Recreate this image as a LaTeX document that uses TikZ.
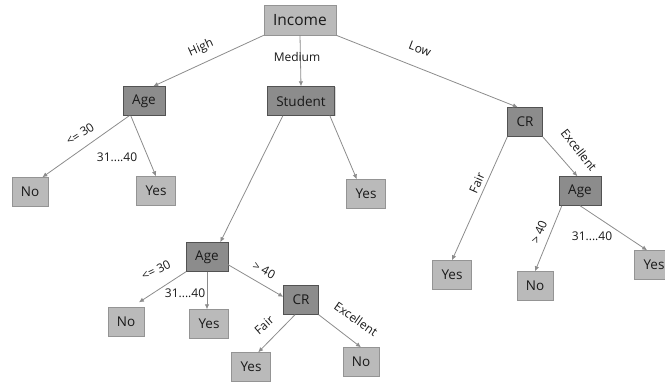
\documentclass[tikz,border=0pt]{standalone}
\usepackage{fontspec}
\setmainfont{Open Sans}
\usetikzlibrary{arrows.meta,shadows}
\tikzset{
  box/.style={rectangle, inner xsep=9pt, inner ysep=0pt, minimum height=29pt, text=black!90,
    font=\fontsize{13.5}{15}\selectfont,
    drop shadow={shadow xshift=1pt, shadow yshift=-1pt, opacity=0.3}},
  leaf/.style={box, draw=black!42, fill=black!27},
  test/.style={box, draw=black!68, fill=black!45},
  branch/.style={draw=black!45, line width=0.8pt, -{Latex[length=5pt,width=4.5pt]}},
  cond/.style={font=\fontsize{12}{13}\selectfont, text=black!90, inner sep=1pt},
}
\begin{document}
\begin{tikzpicture}[x=1pt, y=1pt]
  \useasboundingbox (0,0) rectangle (665,383);
  % Wurzel und erste Ebene
  \node[leaf, minimum height=30pt, font=\fontsize{15.5}{17}\selectfont] (inc) at (300,363) {Income};
  \node[test] (age1) at (144,282) {Age};
  \node[test] (stu) at (301,282) {Student};
  \node[test] (cr1) at (525,261) {CR};
  % Blaetter und Tests darunter
  \node[leaf] (no1) at (30,191) {No};
  \node[leaf] (yes1) at (156,192) {Yes};
  \node[leaf] (yes2) at (366,189) {Yes};
  \node[test] (age2) at (580,192) {Age};
  \node[leaf] (yes3) at (452,108) {Yes};
  \node[leaf] (no2) at (535,97) {No};
  \node[leaf] (yes4) at (654,118) {Yes};
  \node[test] (age3) at (207,126) {Age};
  \node[leaf] (no3) at (126,61) {No};
  \node[leaf] (yes5) at (209,59) {Yes};
  \node[test] (cr2) at (301,83) {CR};
  \node[leaf] (yes6) at (251,16) {Yes};
  \node[leaf] (no4) at (361,21) {No};
  % Kanten von Income
  \draw[branch] (inc.south west) -- (age1.58);
  \draw[branch] (inc.south) -- (stu.north);
  \draw[branch] (inc.south east) -- (cr1.116);
  \node[cond, rotate=24] at (201,335) {High};
  \node[cond] at (297,326) {Medium};
  \node[cond, rotate=-21] at (420,334) {Low};
  % Kanten von Age (links)
  \draw[branch] (age1.225) -- (no1.50);
  \draw[branch] (age1.228) -- (yes1.north);
  \node[cond, rotate=33] at (80,249) {<= 30};
  \node[cond] at (117,226) {31....40};
  % Kanten von Student
  \draw[branch] (stu.219) -- (age3.48);
  \draw[branch] (stu.-27) -- (yes2.122);
  % Kanten von CR (rechts)
  \draw[branch] (cr1.south west) -- (yes3.north);
  \draw[branch] (cr1.south east) -- (age2.100);
  \node[cond, rotate=66] at (477,200) {Fair};
  \node[cond, rotate=-52] at (579,233) {Excellent};
  % Kanten von Age (rechts)
  \draw[branch] (age2.219) -- (no2.north);
  \draw[branch] (age2.south) -- (yes4.115);
  \node[cond, rotate=67] at (539,151) {> 40};
  \node[cond] at (592,147) {31....40};
  % Kanten von Age (unten)
  \draw[branch, shorten >=9pt] (age3.south west) -- (no3.70);
  \draw[branch] (age3.south) -- (age3.south |- yes5.north);
  \draw[branch] (age3.-20) -- (cr2.170);
  \node[cond, rotate=26] at (156,113) {<= 30};
  \node[cond] at (185,90) {31....40};
  \node[cond, rotate=-29] at (264,113) {> 40};
  % Kanten von CR (unten)
  \draw[branch] (cr2.-112) -- (yes6.64);
  \draw[branch] (cr2.south east) -- (no4.north);
  \node[cond, rotate=41] at (264,58) {Fair};
  \node[cond, rotate=-35] at (356,64) {Excellent};
\end{tikzpicture}
\end{document}
